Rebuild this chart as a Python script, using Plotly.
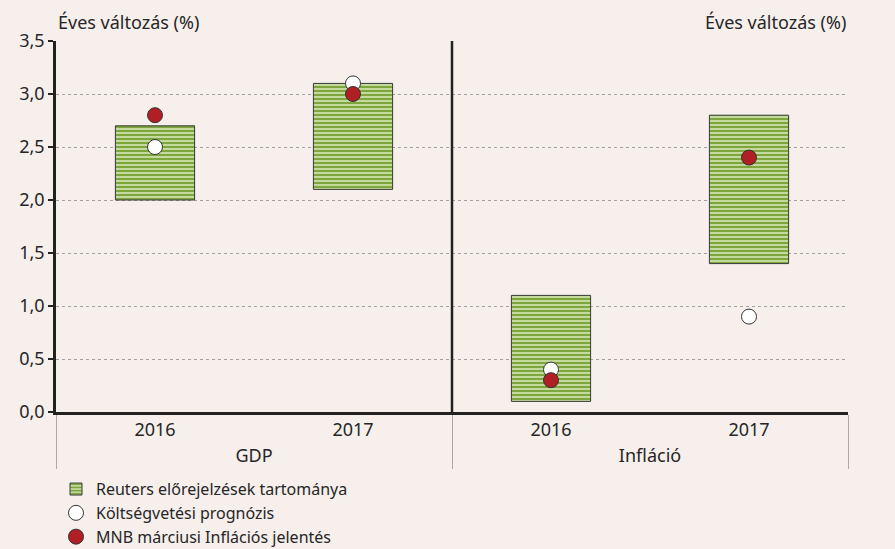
import plotly.graph_objects as go

groups = ["GDP", "GDP", "Infláció", "Infláció"]
years = ["2016", "2017", "2016", "2017"]
range_low = [2.0, 2.1, 0.1, 1.4]
range_high = [2.7, 3.1, 1.1, 2.8]
budget = [2.5, 3.1, 0.4, 0.9]
mnb = [2.8, 3.0, 0.3, 2.4]
y_ticks = [0.0, 0.5, 1.0, 1.5, 2.0, 2.5, 3.0, 3.5]

BG = "#f6efec"
TXT = "#262626"
FONT = "Noto Sans"
FS = 18

x = [groups, years]
fig = go.Figure()
fig.add_trace(go.Bar(
    x=x, y=[h - l for h, l in zip(range_high, range_low)], base=range_low,
    width=0.4, name="Reuters előrejelzések tartománya",
    marker=dict(color="#c4d99c", line=dict(color="#3a3a3a", width=1),
                pattern=dict(shape="-", fgcolor="#7da63e", bgcolor="#c4d99c",
                             size=4, solidity=0.5, fillmode="replace")),
))
fig.add_trace(go.Scatter(
    x=x, y=budget, mode="markers", name="Költségvetési prognózis",
    marker=dict(size=15, color="white", line=dict(color="#333333", width=1)),
))
fig.add_trace(go.Scatter(
    x=x, y=mnb, mode="markers", name="MNB márciusi Inflációs jelentés",
    marker=dict(size=15, color="#b01f24", line=dict(color="#333333", width=1)),
))

fig.add_shape(type="line", xref="paper", yref="y", x0=0.5, x1=0.5, y0=0, y1=3.5,
              line=dict(color="#222222", width=2.5))

fig.add_annotation(text="Éves változás (%)", xref="paper", yref="paper", x=0, y=1.0,
                   xanchor="left", yanchor="bottom", yshift=5, showarrow=False,
                   font=dict(size=FS, color=TXT, family=FONT))
fig.add_annotation(text="Éves változás (%)", xref="paper", yref="paper", x=1, y=1.0,
                   xanchor="right", yanchor="bottom", yshift=5, showarrow=False,
                   font=dict(size=FS, color=TXT, family=FONT))

axis_y = dict(range=[0, 3.5], tickvals=y_ticks, tickformat=".1f",
              showline=True, linecolor="#222222", linewidth=2.5,
              ticks="outside", ticklen=5, tickwidth=2, tickcolor="#222222",
              tickfont=dict(size=FS, color=TXT, family=FONT), zeroline=False)

fig.update_layout(
    width=895, height=549,
    margin=dict(l=56, r=47, t=41, b=137, autoexpand=False),
    paper_bgcolor=BG, plot_bgcolor=BG,
    separators=", ",
    showlegend=True,
    barmode="overlay",
    legend=dict(x=0, y=0.14, xref="paper", yref="container", xanchor="left", yanchor="top",
                font=dict(size=16, color=TXT, family=FONT),
                bgcolor="rgba(0,0,0,0)", tracegroupgap=0, itemwidth=30),
    xaxis=dict(type="multicategory", showline=True, linecolor="#222222", linewidth=2.5,
               ticks="", showdividers=True, dividercolor="#aaaaaa", dividerwidth=1,
               tickfont=dict(size=FS, color=TXT, family=FONT), showgrid=False),
    yaxis=dict(**axis_y, showgrid=True, gridcolor="#a0a0a0", griddash="dot", gridwidth=1),
    yaxis2=dict(**axis_y, overlaying="y", side="right", showgrid=False),
)

fig.write_html("out.html", config={"displayModeBar": False},
               post_script="document.body.style.margin='0';")
